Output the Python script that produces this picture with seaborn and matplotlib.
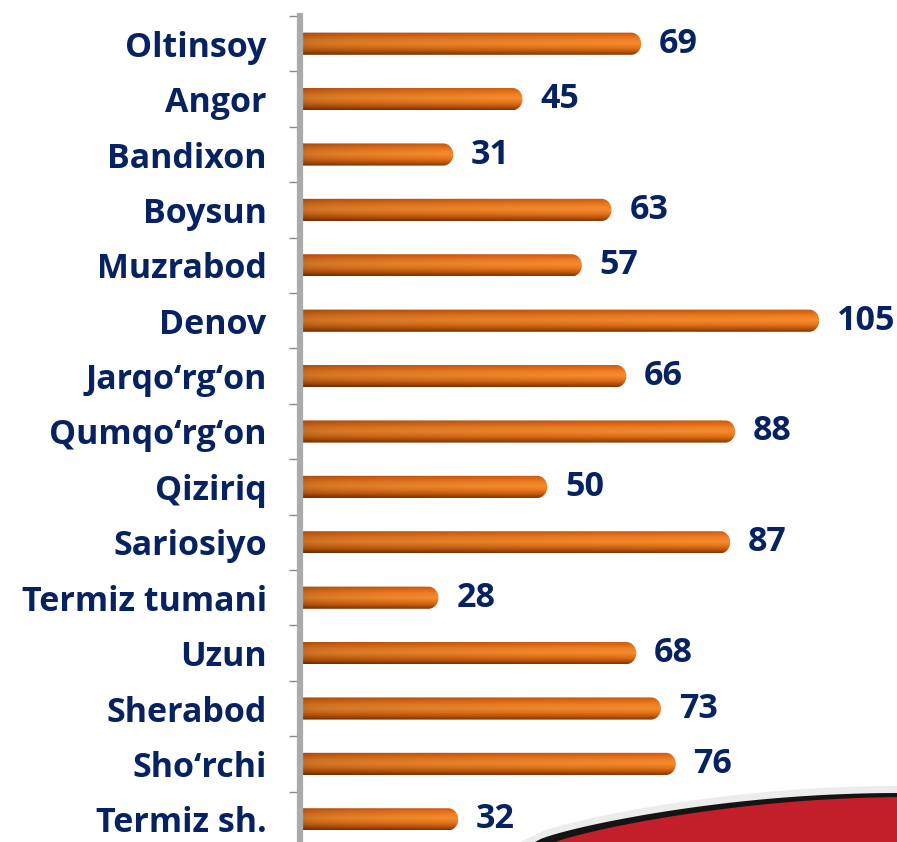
import numpy as np
import pandas as pd
import matplotlib
matplotlib.use('Agg')
import matplotlib.pyplot as plt
import seaborn as sns
from matplotlib.path import Path
from matplotlib.patches import PathPatch, Polygon
from matplotlib.colors import LinearSegmentedColormap

districts = ['Oltinsoy', 'Angor', 'Bandixon', 'Boysun', 'Muzrabod', 'Denov',
             'Jarqo‘rg‘on', 'Qumqo‘rg‘on', 'Qiziriq', 'Sariosiyo',
             'Termiz tumani', 'Uzun', 'Sherabod', 'Sho‘rchi', 'Termiz sh.']
values = [69, 45, 31, 63, 57, 105, 66, 88, 50, 87, 28, 68, 73, 76, 32]

df = pd.DataFrame({'district': districts, 'value': values})

navy = '#062260'
W, H = 897, 842
fig = plt.figure(figsize=(W / 100, H / 100), dpi=100)
sns.set_style('white')
plt.rcParams['font.family'] = ['Open Sans', 'DejaVu Sans']

# axes placed in pixel units: spine at x=300, top at y=16, ~55.4 px per row
row_px = 55.4
top_px = 16
ax_h = row_px * 15
ax = fig.add_axes([300 / W, 1 - (top_px + ax_h) / H, (W - 300) / W, ax_h / H])

sns.barplot(data=df, x='value', y='district', orient='h', width=0.4,
            color='#E8711A', ax=ax)

xmax = (W - 303) / 4.92
ax.set_xlim(0, xmax)
ax.set_ylim(14.5, -0.5)

# cylinder-like orange gradient with rounded right end (top -> bottom)
cmap = LinearSegmentedColormap.from_list(
    'bar', ['#c0580e', '#e46c16', '#f08226', '#f58c30', '#e8761c', '#c45a0c', '#7e3506'])
px_x = xmax / (W - 300)          # data units per pixel (x)
px_y = 1 / row_px                # data units per pixel (y)
patches = list(ax.patches)
for p in patches:
    x0, y0 = p.get_x(), p.get_y()
    w, h = p.get_width(), p.get_height()
    p.remove()
    x0 = x0 + 0.6
    rx = (h / 2) / px_y * px_x * 0.9
    x1 = x0 + w - 0.6
    yc = y0 + h / 2
    t = np.linspace(-np.pi / 2, np.pi / 2, 40)
    arc = np.column_stack([x1 - rx + rx * np.cos(t), yc + (h / 2) * np.sin(t)])
    verts = np.vstack([[x0, y0], [x1 - rx, y0], arc, [x0, y0 + h], [x0, y0]])
    clip = PathPatch(Path(verts), facecolor='none', edgecolor='none',
                     transform=ax.transData)
    ax.add_patch(clip)
    grad_y = np.linspace(0, 1, 64)[:, None]
    grad_x = np.linspace(0.0, 1.0, 64)[None, :]
    img = cmap(grad_y * np.ones_like(grad_x))
    shade = 0.82 + 0.18 * np.sqrt(grad_x)
    img[..., :3] = img[..., :3] * shade[..., None]
    im = ax.imshow(img, extent=(x0, x1, y0 + h, y0), aspect='auto',
                   interpolation='bilinear', zorder=2)
    im.set_clip_path(clip)
    ax.text(x0 + w + 3.0, yc, str(int(round(w))), va='center', ha='left',
            fontsize=24.5, fontweight='bold', color=navy)

ax.set_xlim(0, xmax)
ax.set_ylim(14.5, -0.5)
ax.set_xlabel('')
ax.set_ylabel('')
ax.set_xticks([])

for s in ['top', 'right', 'bottom']:
    ax.spines[s].set_visible(False)
ax.spines['left'].set_color('#ababab')
ax.spines['left'].set_linewidth(4.5)
ax.spines['left'].set_zorder(3)

ax.set_yticks(range(len(districts)))
ax.set_yticklabels(districts, fontsize=24.5, fontweight='bold', color=navy)
ax.tick_params(axis='y', which='major', length=0, pad=24)
ax.set_yticks(np.arange(-0.5, 14, 1.0), minor=True)
ax.tick_params(axis='y', which='minor', length=8, width=1, color='#8c8c8c', left=True)

# decorative red swoosh at bottom right (figure pixel coordinates)
def fig_xy(pts):
    return [(x / W, 1 - y / H) for x, y in pts]

xs = np.linspace(535, 900, 60)
curve = 842 - (842 - 793) * np.sin((xs - 535) / 365 * np.pi / 2) ** 0.75
band = [(x, y - 7) for x, y in zip(xs, curve)]
fig.patches.append(Polygon(fig_xy(band + [(900, 842), (520, 842)]),
                           closed=True, transform=fig.transFigure,
                           facecolor='#ececec', edgecolor='none', zorder=5))
blk = [(x, y) for x, y in zip(xs, curve)]
fig.patches.append(Polygon(fig_xy(blk + [(900, 842), (535, 842)]),
                           closed=True, transform=fig.transFigure,
                           facecolor='#141414', edgecolor='none', zorder=6))
red = [(x + 12, y + 4) for x, y in zip(xs, curve)]
fig.patches.append(Polygon(fig_xy(red + [(912, 842), (547, 842)]),
                           closed=True, transform=fig.transFigure,
                           facecolor='#c21f2b', edgecolor='none', zorder=7))

fig.savefig('out.png', dpi=100)
